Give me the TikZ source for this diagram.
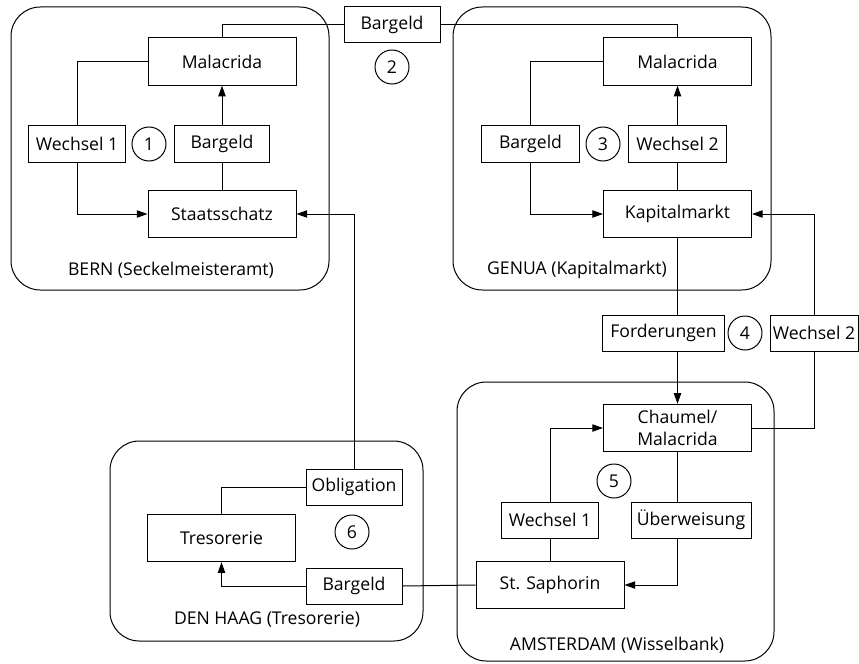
\documentclass[tikz,border=0pt]{standalone}
\usepackage{fontspec}
\setmainfont{Open Sans}
\usetikzlibrary{arrows.meta}

\tikzset{every picture/.style={line width=0.75pt}}
\tikzset{
  bigbox/.style={draw, rectangle, inner sep=0pt, minimum width=111pt, minimum height=35.5pt},
  smallbox/.style={draw, rectangle, inner sep=0pt, minimum width=73pt, minimum height=27pt},
  numcirc/.style={draw, circle, inner sep=0pt, minimum size=25.5pt},
  region/.style={draw, rounded corners=22pt},
  arr/.style={-{Triangle[length=8pt,width=5.5pt]}},
}

\begin{document}
\begin{tikzpicture}[x=0.75pt,y=0.75pt,yscale=-1,xscale=1,font=\fontsize{13.2}{15}\selectfont]
\useasboundingbox (0,0) rectangle (859,663);

%Shape: Rounded Rect [BERN]
\draw [region] (11,7) rectangle (329,290);
%Shape: Rounded Rect [GENUA]
\draw [region] (453,7) rectangle (771,290);
%Shape: Rounded Rect [AMSTERDAM]
\draw [region] (457,382) rectangle (774,661);
%Shape: Rounded Rect [DEN HAAG]
\draw [region] (110,441) rectangle (423,641);

% Text Node
\node (bernLbl) at (171,270) {BERN (Seckelmeisteramt)};
\node (genLbl) at (577,270) {GENUA (Kapitalmarkt)};
\node (amsLbl) at (617,645) {AMSTERDAM (Wisselbank)};
\node (haagLbl) at (267,619) {DEN HAAG (Tresorerie)};

%Bern
\node [bigbox] (bernMal) at (222,61.5) {Malacrida};
\node [smallbox] (bernWech) at (77,144) {Wechsel 1};
\node [numcirc] (c1) at (149,144) {1};
\node [smallbox, minimum width=71pt] (bernBar) at (222,144) {Bargeld};
\node [bigbox] (staats) at (222,214) {Staatsschatz};

%top
\node [smallbox, minimum width=72pt] (topBar) at (392,25) {Bargeld};
\node [numcirc] (c2) at (392,67) {2};

%Genua
\node [bigbox] (genMal) at (677.5,61.5) {Malacrida};
\node [smallbox] (genBar) at (530.5,144) {Bargeld};
\node [numcirc] (c3) at (603,144) {3};
\node [smallbox] (genWech) at (677.5,144) {Wechsel 2};
\node [bigbox] (kapital) at (677.5,214) {Kapitalmarkt};

%between Genua and Amsterdam
\node [smallbox, minimum width=91pt] (ford) at (663.5,333) {Forderungen};
\node [numcirc] (c4) at (745,333) {4};
\node [smallbox, minimum width=66pt] (wechR) at (814,333) {Wechsel 2};

%Amsterdam
\node [bigbox, align=center, font=\fontsize{13.2}{16}\selectfont] (chaumel) at (677.5,428) {Chaumel/\\Malacrida};
\node [numcirc] (c5) at (614,481) {5};
\node [smallbox] (amsWech) at (550,520) {Wechsel 1};
\node [smallbox, minimum width=90pt] (uberw) at (691,520) {Überweisung};
\node [bigbox] (saphorin) at (550,585) {St. Saphorin};

%Den Haag
\node [smallbox, minimum width=72pt] (oblig) at (354,487) {Obligation};
\node [bigbox] (treso) at (221.5,538) {Tresorerie};
\node [numcirc] (c6) at (352,532) {6};
\node [smallbox, minimum width=72pt] (haagBar) at (354,586) {Bargeld};

%Straight Lines
\draw (bernMal.west) -| (bernWech.north);
\draw [arr] (bernWech.south) |- (staats.west);
\draw (staats.north) -- (bernBar.south);
\draw [arr] (bernBar.north) -- (bernMal.south);

\draw (bernMal.north) |- (topBar.west);
\draw (topBar.east) -| (genMal.north);

\draw (genMal.west) -| (genBar.north);
\draw [arr] (genBar.south) |- (kapital.west);
\draw (kapital.north) -- (genWech.south);
\draw [arr] (genWech.north) -- (genMal.south);

\draw (kapital.south) -- (kapital.south |- ford.north);
\draw [arr] (kapital.south |- ford.south) -- (chaumel.north);
\draw [arr] (wechR.north) |- (kapital.east);
\draw (chaumel.east) -| (wechR.south);

\draw [arr] (amsWech.north) |- (chaumel.west);
\draw (saphorin.north) -- (amsWech.south);
\draw (chaumel.south) -- (chaumel.south |- uberw.north);
\draw [arr] (chaumel.south |- uberw.south) |- (saphorin.east);
\draw (saphorin.west) -- (haagBar.east);

\draw [arr] (oblig.north) |- (staats.east);
\draw (oblig.west) -| (treso.north);
\draw [arr] (haagBar.west) -| (treso.south);

\end{tikzpicture}
\end{document}
